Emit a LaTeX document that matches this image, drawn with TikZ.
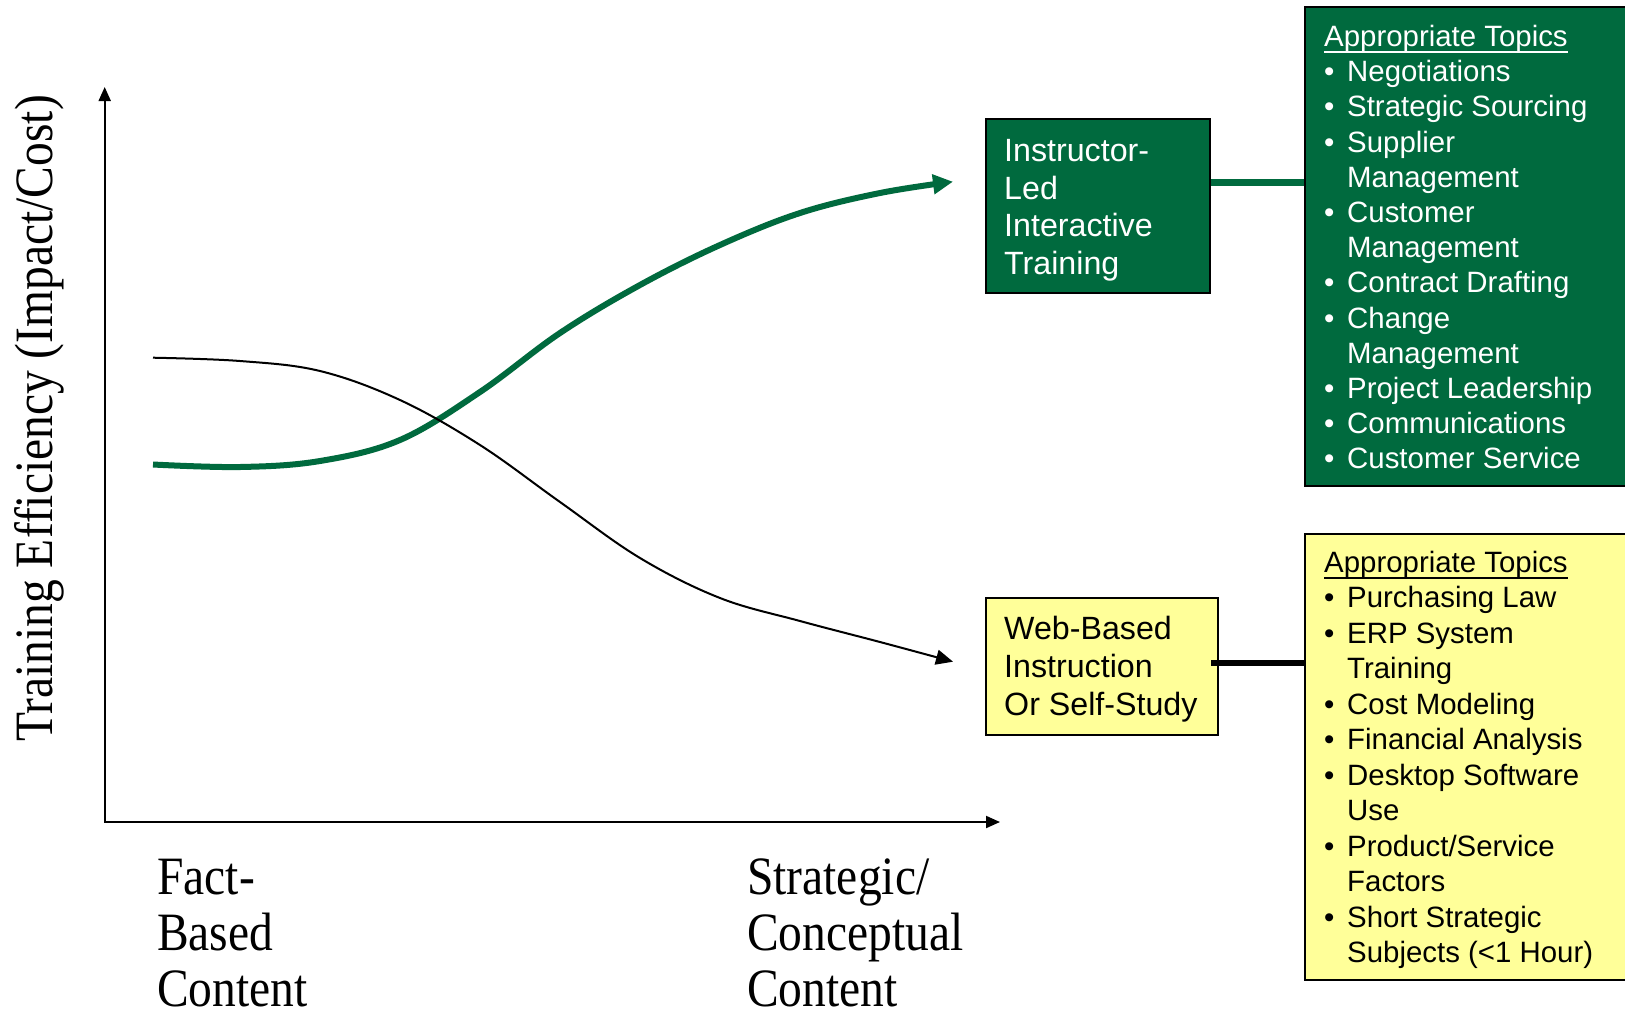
\documentclass[tikz,border=0pt]{standalone}
\usepackage{fontspec}
\usetikzlibrary{arrows.meta,calc}
\newfontfamily\arialf{Liberation Sans}
\newfontfamily\timesf[FakeStretch=0.88]{Liberation Serif}
\definecolor{dkgreen}{RGB}{0,106,62}
\definecolor{ltyellow}{RGB}{255,255,153}
\newcommand\ulhead[1]{\setbox0=\hbox{#1}\rlap{\rule[-6.7pt]{\wd0}{2pt}}\box0}
\newcommand\itm[1]{\makebox[23pt][l]{•}#1}
\newcommand\cnt[1]{\hspace*{23pt}#1}
\tikzset{
  axisline/.style={line width=2pt, draw=black, line join=miter,
    {Triangle[length=14pt,width=12pt]}-{Triangle[length=14pt,width=12pt]}},
  gcurve/.style={draw=dkgreen, line width=6pt, -{Triangle[length=20pt,width=19pt]}},
  bcurve/.style={draw=black, line width=2pt, -{Triangle[length=17pt,width=15pt]}},
  boxshape/.style={draw=black, line width=2pt, inner sep=0pt, anchor=north west},
  boxtext/.style={inner sep=0pt, anchor=north west, align=left,
    font={\arialf\fontsize{32.2}{37.8}\selectfont}},
  listtextg/.style={inner sep=0pt, anchor=north west, align=left, text=white,
    font={\arialf\fontsize{29.4}{35.2}\selectfont}},
  listtexty/.style={inner sep=0pt, anchor=north west, align=left, text=black,
    font={\arialf\fontsize{29.4}{35.5}\selectfont}},
  axislabel/.style={inner sep=0pt, align=left,
    font={\timesf\fontsize{54}{56.3}\selectfont}},
  gconn/.style={draw=dkgreen, line width=7pt},
  bconn/.style={draw=black, line width=6.5pt},
}
\begin{document}
\begin{tikzpicture}[x=1pt,y=-1pt]
\useasboundingbox (0,0) rectangle (1625,1013);
\fill[white] (0,0) rectangle (1625,1013);

% axes
\coordinate (ytip) at (104.7,87);
\coordinate (orig) at (104.7,822);
\coordinate (xtip) at (1000,822);
\draw[axisline] (ytip) -- (orig) -- (xtip);

% axis labels
\node[axislabel, rotate=90, anchor=base] (ylab) at (52,418.5) {Training Efficiency (Impact/Cost)};
\node[axislabel, anchor=north west] (xlabL) at (157,849) {\rule{0pt}{45pt}Fact-\\Based\\Content};
\node[axislabel, anchor=north west] (xlabR) at (747,849) {\rule{0pt}{45pt}Strategic/\\Conceptual\\Content};

% boxes
\node[boxshape, fill=dkgreen, minimum width=224, minimum height=174] (ilbox) at (985,118) {};
\node[boxtext, text=white] (iltext) at (1004,131) {\rule{0pt}{30pt}Instructor-\\Led\\Interactive\\Training};

\node[boxshape, fill=ltyellow, minimum width=232, minimum height=137] (wbbox) at (985,597) {};
\node[boxtext, text=black] (wbtext) at (1004,609.5) {\rule{0pt}{30pt}Web-Based\\Instruction\\Or Self-Study};

\node[boxshape, fill=dkgreen, minimum width=324, minimum height=479] (gtopics) at (1304,6) {};
\node[boxshape, fill=ltyellow, minimum width=324, minimum height=446] (ytopics) at (1304,533) {};

\node[listtextg] (glist) at (1324,18.3) {\rule{0pt}{28pt}\ulhead{Appropriate Topics}\\
\itm{Negotiations}\\
\itm{Strategic Sourcing}\\
\itm{Supplier}\\
\cnt{Management}\\
\itm{Customer}\\
\cnt{Management}\\
\itm{Contract Drafting}\\
\itm{Change}\\
\cnt{Management}\\
\itm{Project Leadership}\\
\itm{Communications}\\
\itm{Customer Service}};

\node[listtexty] (ylist) at (1324,544) {\rule{0pt}{28pt}\ulhead{Appropriate Topics}\\
\itm{Purchasing Law}\\
\itm{ERP System}\\
\cnt{Training}\\
\itm{Cost Modeling}\\
\itm{Financial Analysis}\\
\itm{Desktop Software}\\
\cnt{Use}\\
\itm{Product/Service}\\
\cnt{Factors}\\
\itm{Short Strategic}\\
\cnt{Subjects (<1 Hour)}};

% connectors
\coordinate (ilout) at ($(ilbox.north east)!0.365!(ilbox.south east)$);
\draw[gconn] (ilout) -- (ilout -| gtopics.west);
\coordinate (wbout) at ($(wbbox.north east)!0.476!(wbbox.south east)+(-8,0)$);
\draw[bconn] (wbout) -- (wbout -| ytopics.west);

% curves
\coordinate (gstart) at (153,464.5);
\coordinate (gend) at (953,181.7);
\coordinate (bstart) at (153,357.7);
\coordinate (bend) at (953,661.7);
\draw[gcurve] plot[smooth, tension=0.6] coordinates {(gstart) (240,467) (320,461) (400,440) (480,392) (560,333) (640,285) (720,245) (800,213) (880,193) (gend)};
\draw[bcurve] plot[smooth, tension=0.6] coordinates {(bstart) (240,361) (320,371) (400,400) (480,445) (560,502) (640,558) (720,598) (800,621) (880,642) (bend)};
\end{tikzpicture}
\end{document}
